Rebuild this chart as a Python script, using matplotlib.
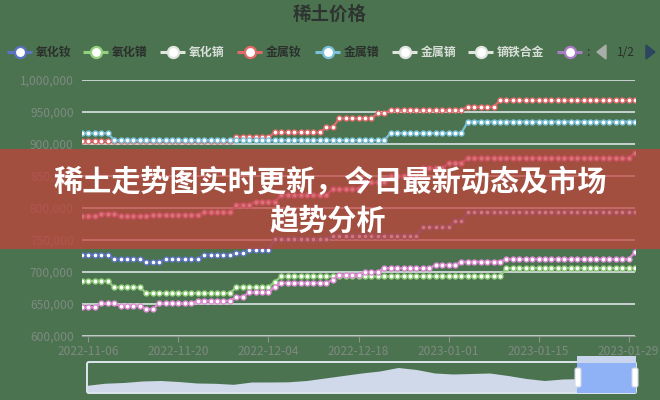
import matplotlib.pyplot as plt
import matplotlib.patches as mpatches
import pandas as pd

plt.rcParams['font.family'] = ['Noto Sans CJK SC', 'DejaVu Sans']

# 日期：每天一个点
dates = pd.date_range('2022-11-05', '2023-01-30')
tick_labels = ['2022-11-06', '2022-11-20', '2022-12-04', '2022-12-18',
               '2023-01-01', '2023-01-15', '2023-01-29']
y_ticks = [600000, 650000, 700000, 750000, 800000, 850000, 900000, 950000, 1000000]

# 价格（千元/吨）
nd_oxide = [727, 727, 727, 727, 727, 720, 720, 720, 720, 720,
            715, 715, 715, 720, 720, 720, 720, 720, 720, 727,
            727, 727, 727, 727, 730, 730, 734, 734, 734, 734,
            752, 752, 752, 752, 752, 752, 752, 752, 752, 757,
            757, 757, 757, 757, 757, 757, 757, 757, 757, 757,
            757, 757, 757, 770, 770, 770, 770, 770, 780, 780,
            794, 794, 794, 794, 794, 794, 794, 794, 794, 794,
            794, 794, 794, 794, 794, 794, 794, 794, 794, 794,
            794, 794, 794, 794, 794, 794, 794]
pr_oxide = [686, 686, 686, 686, 686, 676, 676, 676, 676, 676,
            667, 667, 667, 667, 667, 667, 667, 667, 667, 667,
            667, 667, 667, 667, 676, 676, 676, 676, 676, 676,
            685, 693, 693, 693, 693, 693, 693, 693, 693, 693,
            693, 693, 693, 693, 693, 693, 693, 693, 693, 693,
            693, 693, 693, 693, 693, 693, 693, 693, 693, 693,
            693, 693, 693, 693, 693, 693, 706, 706, 706, 706,
            706, 706, 706, 706, 706, 706, 706, 706, 706, 706,
            706, 706, 706, 706, 706, 706, 706]
nd_metal = [905, 905, 905, 905, 905, 905, 905, 905, 905, 905,
            905, 905, 905, 905, 905, 905, 905, 905, 905, 905,
            905, 905, 905, 905, 911, 911, 911, 911, 911, 911,
            918, 918, 918, 918, 918, 918, 918, 918, 926, 926,
            940, 940, 940, 940, 940, 940, 948, 948, 953, 953,
            953, 953, 953, 953, 953, 953, 953, 953, 953, 953,
            958, 958, 958, 958, 958, 968, 968, 968, 968, 968,
            968, 968, 968, 968, 968, 968, 968, 968, 968, 968,
            968, 968, 968, 968, 968, 968, 968]
pr_metal = [917, 917, 917, 917, 917, 906, 906, 906, 906, 906,
            906, 906, 906, 906, 906, 906, 906, 906, 906, 906,
            906, 906, 906, 906, 906, 906, 906, 906, 906, 906,
            906, 906, 906, 906, 906, 906, 906, 906, 906, 906,
            906, 906, 906, 906, 906, 906, 906, 906, 917, 917,
            917, 917, 917, 917, 917, 917, 917, 917, 917, 917,
            935, 935, 935, 935, 935, 935, 935, 935, 935, 935,
            935, 935, 935, 935, 935, 935, 935, 935, 935, 935,
            935, 935, 935, 935, 935, 935, 935]
prnd_oxide = [645, 645, 645, 651, 651, 651, 647, 647, 647, 647,
              642, 642, 651, 651, 651, 651, 651, 651, 655, 655,
              655, 655, 655, 655, 661, 661, 668, 668, 668, 668,
              677, 683, 683, 683, 683, 683, 683, 683, 683, 688,
              696, 696, 696, 696, 700, 700, 700, 706, 706, 706,
              706, 706, 706, 706, 706, 711, 711, 711, 711, 716,
              716, 716, 716, 716, 716, 716, 720, 720, 720, 720,
              720, 720, 720, 720, 720, 720, 720, 720, 720, 720,
              720, 720, 720, 720, 720, 720, 731]
prnd_metal = [787, 787, 787, 791, 791, 791, 787, 787, 787, 787,
              787, 789, 789, 789, 789, 789, 789, 789, 789, 793,
              793, 793, 793, 793, 805, 805, 805, 810, 810, 810,
              810, 820, 820, 820, 820, 820, 820, 820, 820, 830,
              830, 830, 830, 830, 840, 840, 840, 840, 850, 850,
              850, 850, 850, 862, 862, 862, 862, 870, 870, 870,
              878, 878, 878, 878, 878, 878, 878, 878, 878, 878,
              878, 878, 878, 878, 878, 878, 878, 878, 878, 878,
              878, 878, 878, 878, 878, 878, 886]

# 缩略轴里的阴影（相对高度）
shadow = [7.7, 9.8, 10.5, 12, 12.5, 11.5, 10, 9.7, 8.7, 11,
          11, 11.2, 12.5, 15, 17.5, 20, 22, 25.5, 23.5, 20,
          19, 19.5, 20, 17.5, 14.5, 12.5, 14, 14.4, 14.5, 14.5, 14.5]

legend_names = ['氧化钕', '氧化镨', '氧化镝', '金属钕', '金属镨', '金属镝', '镝铁合金', '']
legend_colors = ['#5b73c0', '#93cf7c', '#dfe4df', '#e26a6a', '#79c0d8', '#dfe4df', '#dfe4df', '#a97cc6']
legend_on = [True, True, False, True, True, False, False, True]

bg = '#4b7350'
W, H = 660, 400
fig = plt.figure(figsize=(6.6, 4), dpi=100, facecolor=bg)


def fx(px):
    return px / W


def fy(py):
    return 1 - py / H


# 主图
ax = fig.add_axes([fx(82), fy(336), fx(635 - 82), (336 - 80) / H])
ax.set_facecolor('none')
x = range(len(dates))
series = [(nd_oxide, '#5b73c0'), (pr_oxide, '#93cf7c'), (nd_metal, '#e26a6a'),
          (pr_metal, '#79c0d8'), (prnd_oxide, '#de8ad4'), (prnd_metal, '#ea7ccc')]
for vals, c in series:
    ax.plot(x, [v * 1000 for v in vals], color=c, lw=1.6, marker='o', ms=3.6,
            mfc='white', mec=c, mew=1.0, zorder=3)

ax.set_xlim(0, len(dates) - 1)
ax.set_ylim(600000, 1000000)
ax.set_yticks(y_ticks)
ax.set_yticklabels([f'{v:,}' for v in y_ticks])
pos = [list(dates.strftime('%Y-%m-%d')).index(t) for t in tick_labels]
ax.set_xticks(pos)
ax.set_xticklabels(tick_labels)
ax.yaxis.grid(True, color='#e8ecf0', lw=1.1)
ax.set_axisbelow(True)
for s in ['top', 'right', 'left']:
    ax.spines[s].set_visible(False)
ax.spines['bottom'].set_color('#8a968c')
ax.tick_params(axis='y', length=0, pad=6, labelsize=8.6, labelcolor='#7f8a81')
ax.tick_params(axis='x', length=4, color='#8a968c', pad=2.5, labelsize=8.6, labelcolor='#7f8a81')

# 缩略轴阴影
sax = fig.add_axes([fx(87), fy(393), fx(636 - 87), 31 / H])
sax.fill_between(range(len(shadow)), shadow, 0, color='#d0d9ea', lw=0)
sax.set_xlim(0, len(shadow) - 1)
sax.set_ylim(0, 31)
sax.axis('off')

# 覆盖层，像素坐标
ov = fig.add_axes([0, 0, 1, 1], zorder=10)
ov.set_xlim(0, W)
ov.set_ylim(H, 0)
ov.axis('off')
ov.patch.set_alpha(0)

ov.text(330, 14, '稀土价格', ha='center', va='center', fontsize=13.3,
        fontweight='bold', color='#2e3530')

# 图例
icon_x = [7, 83, 160, 237, 315, 392, 468, 557]
for ix, name, c, on in zip(icon_x, legend_names, legend_colors, legend_on):
    ov.plot([ix, ix + 25], [52, 52], color=c, lw=2.2, solid_capstyle='butt')
    ov.plot([ix + 12.5], [52], marker='o', ms=8, mfc='white', mec=c, mew=1.6)
    if name:
        ov.text(ix + 29, 52.5, name, ha='left', va='center', fontsize=8.6,
                fontweight='bold', color='#2b302c' if on else '#d8ded8')
ov.text(586, 52, ':', ha='left', va='center', fontsize=8.6, color='#2b302c')
ov.add_patch(mpatches.Polygon([[597, 52], [606, 45], [606, 59]], color='#a8aea9'))
ov.text(626, 52.5, '1/2', ha='center', va='center', fontsize=8.6, color='#2b302c')
ov.add_patch(mpatches.Polygon([[646, 45], [655, 52], [646, 59]], color='#2c4560'))

# 缩略轴框
ov.add_patch(mpatches.FancyBboxPatch((87, 362), 549, 31, boxstyle='round,pad=0,rounding_size=2',
                                     fc='none', ec='#dde5ee', lw=1.4))
ov.add_patch(mpatches.Rectangle((577, 356), 59, 7, fc='#c9d6ee', ec='none'))
ov.add_patch(mpatches.Rectangle((577, 363), 59, 30, fc='#8fb1f5', ec='none'))
for hx in [575, 632]:
    ov.add_patch(mpatches.FancyBboxPatch((hx, 368), 6, 19, boxstyle='round,pad=0,rounding_size=2',
                                         fc='white', ec='#cfd8e6', lw=0.8))

# 标题横幅
ov.add_patch(mpatches.Rectangle((0, 149), W, 100, fc=(196 / 255, 65 / 255, 59 / 255),
                                alpha=0.72, ec='none'))
ov.text(330, 182, '稀土走势图实时更新，今日最新动态及市场', ha='center', va='center',
        fontsize=21, fontweight='bold', color='white')
ov.text(328, 221, '趋势分析', ha='center', va='center', fontsize=21,
        fontweight='bold', color='white')

fig.savefig('out.png', dpi=100, facecolor=bg)
